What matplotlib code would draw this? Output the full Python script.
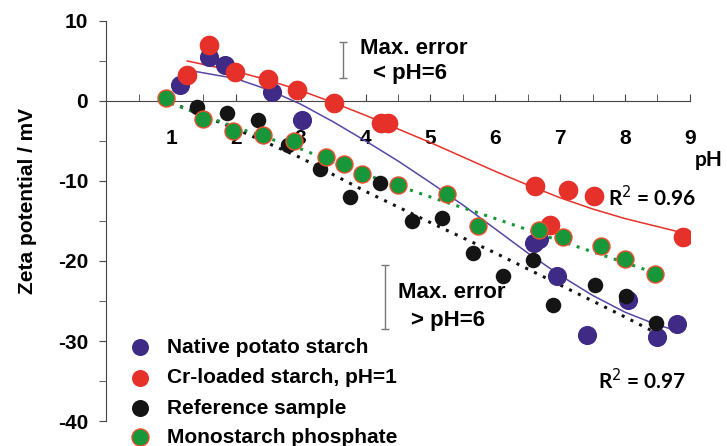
import matplotlib
matplotlib.use("Agg")
import matplotlib.pyplot as plt

plt.rcParams["axes.unicode_minus"] = False

# values
native_ph = [1.14, 1.59, 1.83, 2.56, 3.02, 6.60, 6.68, 6.95, 7.41, 8.04, 8.50, 8.80]
native_zeta = [2.0, 5.5, 4.5, 1.1, -2.4, -17.8, -17.2, -21.9, -29.3, -24.9, -29.5, -27.9]

cr_ph = [1.25, 1.59, 1.99, 2.50, 2.94, 3.52, 4.24, 4.34, 6.61, 6.84, 7.12, 7.52, 8.90]
cr_zeta = [3.2, 7.0, 3.6, 2.8, 1.4, -0.3, -2.7, -2.8, -10.6, -15.5, -11.1, -11.9, -17.0]

ref_ph = [1.40, 1.86, 2.34, 2.80, 3.30, 3.76, 4.22, 4.71, 5.18, 5.65, 6.12, 6.58, 6.89, 7.53, 8.02, 8.47]
ref_zeta = [-0.7, -1.5, -2.4, -5.5, -8.5, -12.0, -10.2, -15.0, -14.6, -19.0, -21.9, -19.9, -25.5, -23.0, -24.4, -27.7]

mono_ph = [0.92, 1.49, 1.96, 2.42, 2.90, 3.39, 3.66, 3.94, 4.50, 5.26, 5.73, 6.67, 7.04, 7.63, 8.00, 8.46]
mono_zeta = [0.4, -2.2, -3.8, -4.2, -5.0, -7.0, -7.9, -9.1, -10.5, -11.6, -15.6, -16.1, -17.0, -18.1, -19.8, -21.6]

# trend lines
native_fit_ph = [1.37, 2.0, 2.5, 3.0, 3.5, 4.0, 4.5, 5.0, 5.5, 6.0, 6.5, 7.0, 7.5, 8.0, 8.5, 8.8]
native_fit_zeta = [3.7, 2.8, 1.4, -0.4, -2.6, -5.0, -7.5, -10.2, -13.0, -16.0, -19.0, -21.8, -24.3, -26.4, -28.0, -28.7]

cr_fit_ph = [1.25, 2.0, 2.5, 3.0, 3.5, 4.0, 4.5, 5.0, 5.5, 6.0, 6.5, 7.0, 7.5, 8.0, 8.5, 8.85]
cr_fit_zeta = [5.0, 3.7, 2.6, 1.3, -0.2, -1.8, -3.5, -5.2, -7.0, -8.8, -10.5, -12.1, -13.5, -14.7, -15.7, -16.4]

ref_fit_ph = [1.0, 2.0, 3.0, 4.0, 5.0, 6.0, 7.0, 8.0, 8.6]
ref_fit_zeta = [-0.2, -3.5, -7.1, -11.3, -15.2, -19.0, -23.0, -27.0, -29.5]

mono_fit_ph = [1.0, 2.0, 3.0, 4.0, 5.0, 6.0, 7.0, 8.0, 8.46]
mono_fit_zeta = [-0.3, -3.3, -6.0, -9.2, -12.0, -14.7, -17.5, -20.2, -21.5]

labels = ["Native potato starch", "Cr-loaded starch, pH=1",
          "Reference sample", "Monostarch phosphate"]

PURPLE = "#3f2b86"
RED = "#e6312a"
BLACK = "#141414"
GREEN = "#18963a"
GREEN_EDGE = "#ea4f2c"

TICK_FONT = "Liberation Sans"
TEXT_FONT = "Lato"

fig = plt.figure(figsize=(7.27, 4.46), dpi=100)
ax = fig.add_axes([0.146, 0.056, 0.803, 0.897])

ax.plot(native_fit_ph, native_fit_zeta, color="#5546a8", lw=1.1, zorder=2)
ax.plot(cr_fit_ph, cr_fit_zeta, color=RED, lw=1.1, zorder=2)
ax.plot(ref_fit_ph, ref_fit_zeta, color=BLACK, lw=2.2, ls=(0, (1, 2.2)), zorder=2)
ax.plot(mono_fit_ph, mono_fit_zeta, color=GREEN, lw=2.2, ls=(0, (1, 2.2)), zorder=2)

ax.scatter(native_ph, native_zeta, s=190, color=PURPLE, lw=0, zorder=3)
ax.scatter(cr_ph, cr_zeta, s=200, color=RED, lw=0, zorder=4)
ax.scatter(ref_ph, ref_zeta, s=125, color=BLACK, lw=0, zorder=5)
ax.scatter(mono_ph, mono_zeta, s=150, color=GREEN, edgecolor=GREEN_EDGE, lw=1.0, zorder=6)

# hand-drawn legend below the curves
legend_y = [-30.75, -34.6, -38.4, -42.0]
legend_style = [dict(color=PURPLE, lw=0), dict(color=RED, lw=0),
                dict(color=BLACK, lw=0),
                dict(color=GREEN, edgecolor=GREEN_EDGE, lw=1.0)]
for lab, yy, st in zip(labels, legend_y, legend_style):
    ax.scatter([0.52], [yy], s=150, clip_on=False, zorder=6, **st)
    ax.text(0.94, yy, lab, fontsize=15, fontweight="bold", family=TICK_FONT,
            va="center", ha="left", clip_on=False)

# error bars
ax.errorbar([3.65], [5.15], yerr=[2.25], fmt="none", ecolor="#777777",
            elinewidth=1, capsize=3, zorder=1)
ax.errorbar([4.3], [-24.5], yerr=[4.0], fmt="none", ecolor="#777777",
            elinewidth=1, capsize=3, zorder=1)

ax.text(3.91, 6.6, "Max. error", fontsize=16, fontweight="bold", family=TICK_FONT, va="center")
ax.text(4.11, 3.4, "< pH=6", fontsize=16, fontweight="bold", family=TICK_FONT, va="center")
ax.text(4.5, -23.9, "Max. error", fontsize=16, fontweight="bold", family=TICK_FONT, va="center")
ax.text(4.7, -27.4, "> pH=6", fontsize=16, fontweight="bold", family=TICK_FONT, va="center")
ax.text(7.73, -12.1, "R$^2$ = 0.96", fontsize=15, fontweight="bold", family=TEXT_FONT, va="center")
ax.text(7.58, -34.9, "R$^2$ = 0.97", fontsize=15, fontweight="bold", family=TEXT_FONT, va="center")
ax.text(9.07, -7.4, "pH", fontsize=15, fontweight="bold", family=TEXT_FONT, va="center", clip_on=False)

ax.set_xlim(0, 9)
ax.set_ylim(-40, 10)
ax.spines["top"].set_visible(False)
ax.spines["right"].set_visible(False)
ax.spines["bottom"].set_position(("data", 0))
ax.spines["left"].set_color("#444444")
ax.spines["bottom"].set_color("#444444")

ax.set_xticks(range(1, 10))
ax.set_xticks([x + 0.5 for x in range(0, 9)], minor=True)
ax.set_yticks(range(-40, 11, 10))
ax.set_yticks(range(-35, 10, 10), minor=True)
ax.tick_params(axis="x", which="both", direction="in", length=5, color="#444444", pad=20)
ax.tick_params(axis="y", which="both", direction="out", length=5, color="#444444", pad=8)
for lab in ax.get_xticklabels() + ax.get_yticklabels():
    lab.set_fontsize(15)
    lab.set_fontweight("bold")
    lab.set_family(TICK_FONT)

ax.set_ylabel("Zeta potential / mV", fontsize=15, fontweight="bold", family=TICK_FONT)
ax.yaxis.set_label_coords(-0.118, 0.55)

fig.savefig("out.png", dpi=100)
